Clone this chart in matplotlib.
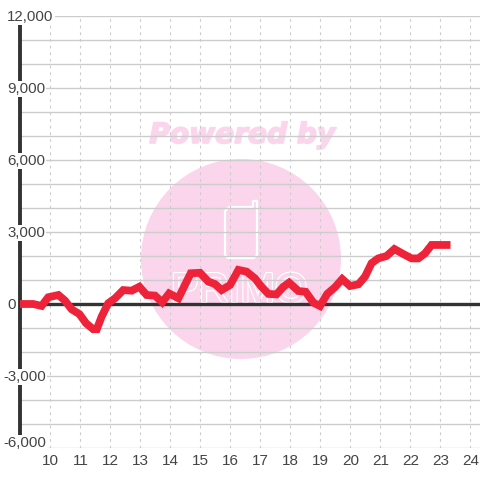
import matplotlib
matplotlib.use("Agg")
import matplotlib.pyplot as plt
import matplotlib.patheffects as pe
from matplotlib.patches import Circle
from matplotlib.path import Path
from matplotlib.patches import PathPatch
from matplotlib.ticker import MultipleLocator
from matplotlib.transforms import blended_transform_factory

plt.rcParams['font.family'] = ['Liberation Sans', 'DejaVu Sans']

# Values
hours = [9.0, 9.44, 9.72, 9.94, 10.28, 10.5, 10.72, 10.98, 11.2, 11.44, 11.56, 11.72, 11.94,
         12.17, 12.44, 12.72, 12.98, 13.22, 13.5, 13.74, 13.97, 14.28, 14.69, 15.0, 15.28,
         15.5, 15.72, 16.0, 16.28, 16.55, 16.83, 17.05, 17.28, 17.55, 17.78, 17.97, 18.28,
         18.52, 18.78, 19.0, 19.24, 19.5, 19.74, 20.0, 20.28, 20.5, 20.72, 20.94, 21.22,
         21.48, 21.78, 22.05, 22.28, 22.5, 22.72, 23.35]
profit = [0, 0, -80, 280, 375, 140, -220, -420, -800, -1050, -1050, -530, 30,
          240, 580, 555, 720, 375, 350, 70, 440, 240, 1280, 1300, 930,
          830, 580, 790, 1420, 1350, 1070, 720, 420, 400, 720, 890, 540,
          510, 55, -85, 420, 700, 1040, 750, 820, 1140, 1700, 1900, 2000,
          2290, 2080, 1900, 1900, 2110, 2460, 2460]
x_ticks = list(range(10, 25))
y_labels = [12000, 9000, 6000, 3000, 0, -3000, -6000]

PINK = '#fbd5ec'
GRID = '#cccccc'
DARK = '#333333'
TEXT = '#444444'

fig = plt.figure(figsize=(4.8, 4.8), dpi=100, facecolor='white')

# Watermark sits behind the chart, drawn in pixel coordinates
bg = fig.add_axes([0, 0, 1, 1])
bg.set_xlim(0, 480)
bg.set_ylim(480, 0)
bg.axis('off')
bg.add_patch(Circle((241, 259), 100, color=PINK, lw=0))
bg.text(242, 135, 'Powered by', color=PINK, family='DejaVu Sans', weight='bold', style='italic',
        fontsize=20.2, ha='center', va='center',
        path_effects=[pe.withStroke(linewidth=1.2, foreground=PINK)])
phone = Path([(229, 207), (253, 207), (253, 201), (257, 201), (257, 255), (254, 258),
              (228, 258), (225, 255), (225, 211), (229, 207)])
bg.add_patch(PathPatch(phone, fill=False, ec='white', lw=1.6, joinstyle='round'))
bg.text(239, 291, 'PRIMO', color=PINK, fontsize=30, ha='center', va='center',
        path_effects=[pe.withStroke(linewidth=2, foreground='white'), pe.Normal()])

# x 20..480 px is 9..24.33, y 16..448 px is 12000..-6000
ax = fig.add_axes([20 / 480, 32 / 480, 460 / 480, 432 / 480])
ax.patch.set_alpha(0)
ax.set_xlim(9, 9 + 460 / 30)
ax.set_ylim(-6000, 12000)
for s in ax.spines.values():
    s.set_visible(False)

ax.yaxis.set_major_locator(MultipleLocator(1000))
ax.set_xticks(x_ticks)
ax.tick_params(length=0, labelleft=False, labelbottom=False)
ax.grid(axis='y', color=GRID, lw=1.0, zorder=1)
ax.grid(axis='x', color=GRID, lw=0.8, ls=(0, (2.5, 3.5)), zorder=1)
ax.set_axisbelow(True)

ax.axhline(0, color=DARK, lw=2.4, zorder=2)
ax.plot([9, 9], [-5450, 11670], color=DARK, lw=2.8, solid_capstyle='butt', zorder=2, clip_on=False)
ax.plot(hours, profit, color='#ee2238', lw=5.6, solid_capstyle='butt', solid_joinstyle='miter', zorder=3)

# Tick labels with white boxes that cut the axis and gridlines
ytrans = blended_transform_factory(fig.transFigure, ax.transData)
for v in y_labels:
    y = v - 40
    left = 7 if v >= 0 else 3
    if v == -6000:
        y = -5790
    ax.text(left / 480, y, f'{v:,}', transform=ytrans, color=TEXT, fontsize=10.8, ha='left', va='center',
            zorder=4, clip_on=False, bbox=dict(fc='white', ec='none', pad=1.0) if v != 0 else None)

xtrans = blended_transform_factory(ax.transData, fig.transFigure)
for t in x_ticks:
    ax.text(t + 0.02, (480 - 461) / 480, str(t), transform=xtrans, color=TEXT, fontsize=11,
            ha='center', va='center', zorder=4, clip_on=False)

fig.savefig('out.png', dpi=100, facecolor='white')
